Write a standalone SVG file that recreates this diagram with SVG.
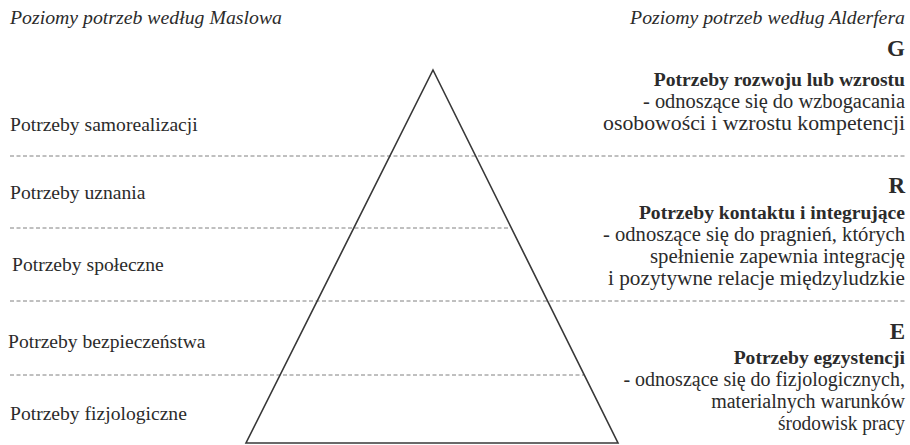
<svg xmlns="http://www.w3.org/2000/svg" width="910" height="445" viewBox="0 0 910 445">
  <style>
    .hdr { font-size: 19.8px; font-style: italic; }
    .lvl { font-size: 19.6px; }
    .letter { font-size: 23px; font-weight: bold; text-anchor: end; }
    .title { font-size: 19.6px; font-weight: bold; text-anchor: end; }
    .desc { font-size: 20px; text-anchor: end; }
    .sep { stroke: #808080; stroke-width: 1; stroke-dasharray: 4 2.5; fill: none; }
    .tri { stroke: #383838; stroke-width: 1.6; fill: none; stroke-linejoin: miter; }
  </style>

  <g font-family="'Liberation Serif', 'DejaVu Serif', serif" fill="#2b2b2b">
  <!-- column headings -->
  <text class="hdr" x="10" y="24">Poziomy potrzeb według Maslowa</text>
  <text class="hdr" x="905" y="24" text-anchor="end">Poziomy potrzeb według Alderfera</text>

  <!-- level separators -->
  <g id="separators">
    <line class="sep" x1="10" y1="156" x2="905" y2="156"/>
    <line class="sep" x1="10" y1="228" x2="509" y2="228"/>
    <line class="sep" x1="10" y1="301" x2="905" y2="301"/>
    <line class="sep" x1="10" y1="375" x2="584" y2="375"/>
  </g>

  <!-- pyramid -->
  <g id="pyramid">
    <polygon class="tri" points="433,70 618,443 246,443"/>
  </g>

  <!-- Maslow levels -->
  <g id="maslow-5"><text class="lvl" x="10" y="131">Potrzeby samorealizacji</text></g>
  <g id="maslow-4"><text class="lvl" x="10" y="199">Potrzeby uznania</text></g>
  <g id="maslow-3"><text class="lvl" x="12" y="271">Potrzeby społeczne</text></g>
  <g id="maslow-2"><text class="lvl" x="8" y="348">Potrzeby bezpieczeństwa</text></g>
  <g id="maslow-1"><text class="lvl" x="10" y="420">Potrzeby fizjologiczne</text></g>

  <!-- Alderfer levels -->
  <g id="alderfer-g">
    <text class="letter" x="905" y="56">G</text>
    <text class="title" x="905" y="86">Potrzeby rozwoju lub wzrostu</text>
    <text class="desc" x="905" y="108" textLength="262" lengthAdjust="spacingAndGlyphs">- odnoszące się do wzbogacania</text>
    <text class="desc" x="905" y="130" textLength="302" lengthAdjust="spacingAndGlyphs">osobowości i wzrostu kompetencji</text>
  </g>
  <g id="alderfer-r">
    <text class="letter" x="905" y="193">R</text>
    <text class="title" x="905" y="219">Potrzeby kontaktu i integrujące</text>
    <text class="desc" x="905" y="241" textLength="302" lengthAdjust="spacingAndGlyphs">- odnoszące się do pragnień, których</text>
    <text class="desc" x="905" y="263" textLength="255" lengthAdjust="spacingAndGlyphs">spełnienie zapewnia integrację</text>
    <text class="desc" x="905" y="285" textLength="297" lengthAdjust="spacingAndGlyphs">i pozytywne relacje międzyludzkie</text>
  </g>
  <g id="alderfer-e">
    <text class="letter" x="905" y="339">E</text>
    <text class="title" x="905" y="364">Potrzeby egzystencji</text>
    <text class="desc" x="905" y="386">- odnoszące się do fizjologicznych,</text>
    <text class="desc" x="905" y="408">materialnych warunków</text>
    <text class="desc" x="905" y="430" textLength="127" lengthAdjust="spacingAndGlyphs">środowisk pracy</text>
  </g>
  </g>
</svg>
